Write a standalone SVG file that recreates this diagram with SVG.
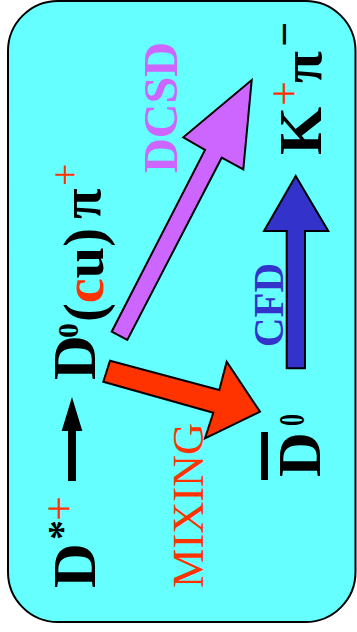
<svg xmlns="http://www.w3.org/2000/svg" width="357" height="632" viewBox="0 0 357 632">
<style>
.t{font-family:"Liberation Serif","Times New Roman",serif;}
.b{font-weight:bold;}
.k{fill:#000;}
.r{fill:#FF3300;}
.arrow{stroke:#000;stroke-width:2;stroke-linejoin:miter;}
</style>
<rect id="panel" x="8" y="1" width="347.5" height="621" rx="50" ry="50" fill="#66FFFF" stroke="#000" stroke-width="2"/>
<g id="connectors">
  <polygon class="arrow" fill="#000" stroke="none" points="72,400.5 81,430 75,430 75,480 69,480 69,430 63,430"/>
  <polygon class="arrow" fill="#CC66FF" points="111.7,331.7 127.3,340 221.7,157.7 243.3,169.3 251.7,80 183.3,137.3 205,150"/>
  <polygon class="arrow" fill="#FF3300" points="110,360.7 103.3,381.7 213.3,412.7 205,438.3 260,411.7 226.7,361.7 219.3,390"/>
  <polygon class="arrow" fill="#3333CC" points="295.7,176 328.3,231 305,231 305,368.3 286.7,368.3 286.7,231 264,231"/>
  <g transform="rotate(-90)">
    <text class="t b" x="-173" y="177" font-size="48" fill="#CC66FF" textLength="131" lengthAdjust="spacingAndGlyphs">DCSD</text>
    <text class="t" x="-588" y="203" font-size="44" fill="#FF3300" textLength="165" lengthAdjust="spacingAndGlyphs">MIXING</text>
    <text class="t b" x="-347" y="283" font-size="42" fill="#3333CC" textLength="84" lengthAdjust="spacingAndGlyphs">CFD</text>
  </g>
</g>
<g id="node-dstar" transform="rotate(-90)">
  <text class="t b k" x="-588" y="95" font-size="62">D</text>
  <text class="t b k" x="-540" y="75" font-size="40">*</text>
  <text class="t r" x="-521" y="74" font-size="44">+</text>
</g>
<g id="node-d0pi" transform="rotate(-90)">
  <text class="t b k" x="-380" y="95" font-size="62">D</text>
  <text class="t b k" x="-338" y="78" font-size="30">0</text>
  <text class="t b k" x="-322" y="103" font-size="58" textLength="94" lengthAdjust="spacingAndGlyphs">(<tspan class="r">c</tspan>u)</text>
  <text class="t b k" x="-219" y="100" font-size="56">π</text>
  <text class="t r" x="-186" y="78" font-size="40">+</text>
</g>
<g id="node-dbar">
  <rect x="261" y="432" width="7" height="48" fill="#000"/>
  <g transform="rotate(-90)">
    <text class="t b k" x="-477" y="320" font-size="62">D</text>
    <text class="t b k" x="-426" y="304" font-size="36" textLength="12" lengthAdjust="spacingAndGlyphs">0</text>
  </g>
</g>
<g id="node-kpi" transform="rotate(-90)">
  <text class="t b k" x="-155" y="321" font-size="62">K</text>
  <text class="t r" x="-106" y="299" font-size="44">+</text>
  <text class="t b k" x="-83" y="321" font-size="58">π</text>
  <text class="t b k" x="-47" y="299" font-size="44">−</text>
</g>
</svg>
